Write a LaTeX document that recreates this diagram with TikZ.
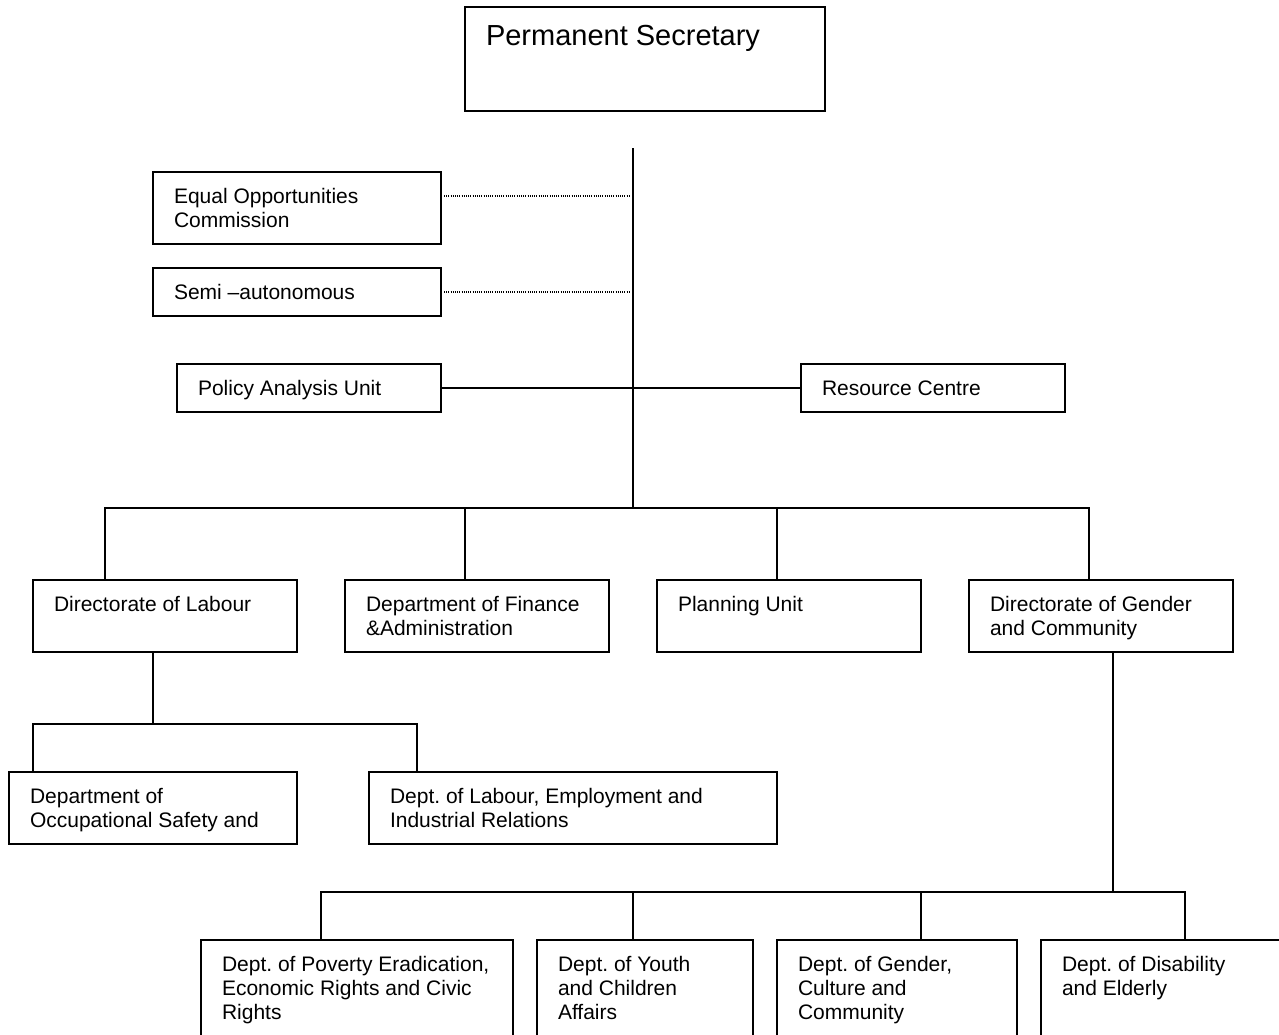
\documentclass[tikz,border=0pt]{standalone}
\usepackage{fontspec}
\setmainfont{Liberation Sans}
\usetikzlibrary{calc}
\frenchspacing
\tikzset{
  orgbox/.style={draw, line width=1.5pt, rectangle, inner sep=0pt, outer sep=0pt, anchor=north west},
  lbl/.style={anchor=base west, inner sep=0pt, outer sep=0pt, font=\fontsize{21}{24}\selectfont},
  biglbl/.style={anchor=base west, inner sep=0pt, outer sep=0pt, font=\fontsize{29}{34}\selectfont},
  link/.style={line width=1.5pt},
  dotlink/.style={line width=1.2pt, dash pattern=on 1pt off 1.2pt},
}
\newcommand\orgbox[6]{%
  \node[orgbox, minimum width=#4pt, minimum height=#5pt] (#1) at (#2,#3) {};
  \node[lbl] (#1-t) at ($(#1.north west)+(21,31)$) {\parbox[t]{400pt}{\raggedright\frenchspacing #6}};}
\begin{document}
\begin{tikzpicture}[x=1pt,y=-1pt]
\clip (0,0) rectangle (1279,1034);
\fill[white] (0,0) rectangle (1279,1034);

% top box
\node[orgbox, minimum width=360pt, minimum height=104pt] (ps) at (465,7) {};
\node[biglbl] (ps-t) at ($(ps.north west)+(21,38)$) {Permanent Secretary};

% side units
\orgbox{eoc}{153}{172}{288}{72}{Equal Opportunities\\Commission}
\orgbox{semi}{153}{268}{288}{48}{Semi –autonomous}
\orgbox{pau}{177}{364}{264}{48}{Policy Analysis Unit}
\orgbox{rc}{801}{364}{264}{48}{Resource Centre}

% second row
\orgbox{lab}{33}{580}{264}{72}{Directorate of Labour}
\orgbox{fin}{345}{580}{264}{72}{Department of Finance\\\&Administration}
\orgbox{plan}{657}{580}{264}{72}{Planning Unit}
\orgbox{gen}{969}{580}{264}{72}{Directorate of Gender\\and Community}

% labour sub-units
\orgbox{occ}{9}{772}{288}{72}{Department of\\Occupational Safety and}
\orgbox{dle}{369}{772}{408}{72}{Dept. of Labour, Employment and\\Industrial Relations}

% gender sub-units
\orgbox{pov}{201}{940}{312}{130}{Dept. of Poverty Eradication,\\Economic Rights and Civic\\Rights}
\orgbox{yth}{537}{940}{216}{130}{Dept. of Youth\\and Children\\Affairs}
\orgbox{gcc}{777}{940}{240}{130}{Dept. of Gender,\\Culture and\\Community}
\orgbox{dis}{1041}{940}{264}{130}{Dept. of Disability\\and Elderly}

% trunk
\coordinate (trunktop) at (633,148);
\coordinate (trunkbot) at (633,508);
\draw[link] (trunktop) -- (trunkbot);

% dotted links
\coordinate (eocdot) at ($(eoc.north east)+(0,24)$);
\draw[dotlink, shorten <=3pt, shorten >=3pt] (eocdot) -- (eocdot -| trunktop);
\draw[dotlink, shorten <=3pt, shorten >=3pt] (semi.east) -- (semi.east -| trunktop);

% policy / resource line
\draw[link] (pau.east) -- (rc.west);

% second row bus
\draw[link] ($(lab.north west)+(72,0)$) |- (trunkbot);
\draw[link] ($(fin.north west)+(120,0)$) |- (trunkbot);
\draw[link] ($(plan.north west)+(120,0)$) |- (trunkbot);
\draw[link] ($(gen.north west)+(120,0)$) |- (trunkbot);

% labour branch
\coordinate (labbus) at ($(lab.south west)+(120,72)$);
\draw[link] ($(lab.south west)+(120,0)$) -- (labbus);
\draw[link] ($(occ.north west)+(24,0)$) |- (labbus);
\draw[link] ($(dle.north west)+(48,0)$) |- (labbus);

% gender branch
\coordinate (genbus) at ($(gen.south west)+(144,240)$);
\draw[link] ($(gen.south west)+(144,0)$) -- (genbus);
\draw[link] ($(pov.north west)+(120,0)$) |- (genbus);
\draw[link] ($(yth.north west)+(96,0)$) |- (genbus);
\draw[link] ($(gcc.north west)+(144,0)$) |- (genbus);
\draw[link] ($(dis.north west)+(144,0)$) |- (genbus);
\end{tikzpicture}
\end{document}
